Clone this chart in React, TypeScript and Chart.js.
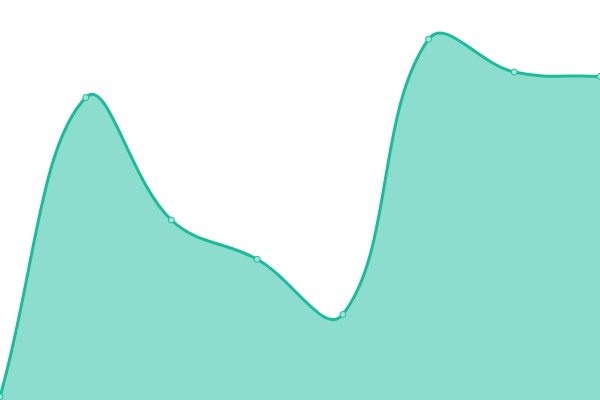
import React, { useEffect, useRef } from "react";
import { Chart, registerables } from "chart.js";

Chart.register(...registerables);

const labels = ["A", "B", "C", "D", "E", "F", "G", "H"];
const values = [0.8, 75.6, 45, 35.2, 21.4, 90.2, 82, 80.9];

export default function App() {
  const ref = useRef<HTMLCanvasElement | null>(null);
  useEffect(() => {
    document.body.style.margin = "0";
    const chart = new Chart(ref.current!, {
      type: "line",
      data: {
        labels,
        datasets: [
          {
            data: values,
            borderColor: "#1abc9c",
            backgroundColor: "rgba(26,188,156,0.5)",
            borderWidth: 3,
            fill: true,
            tension: 0.4,
            pointRadius: 3,
            pointBorderWidth: 1,
            pointBackgroundColor: "#a0e6d8",
            pointBorderColor: "#1abc9c",
          },
        ],
      },
      options: {
        animation: false,
        responsive: false,
        layout: { padding: 0, autoPadding: false },
        plugins: { legend: { display: false }, tooltip: { enabled: false } },
        scales: {
          x: { display: false, offset: false },
          y: { display: false, min: 0, max: 100 },
        },
      },
    });
    return () => chart.destroy();
  }, []);
  return (
    <div style={{ width: 600, height: 400 }}>
      <canvas ref={ref} width={600} height={400} style={{ display: "block" }} />
    </div>
  );
}
